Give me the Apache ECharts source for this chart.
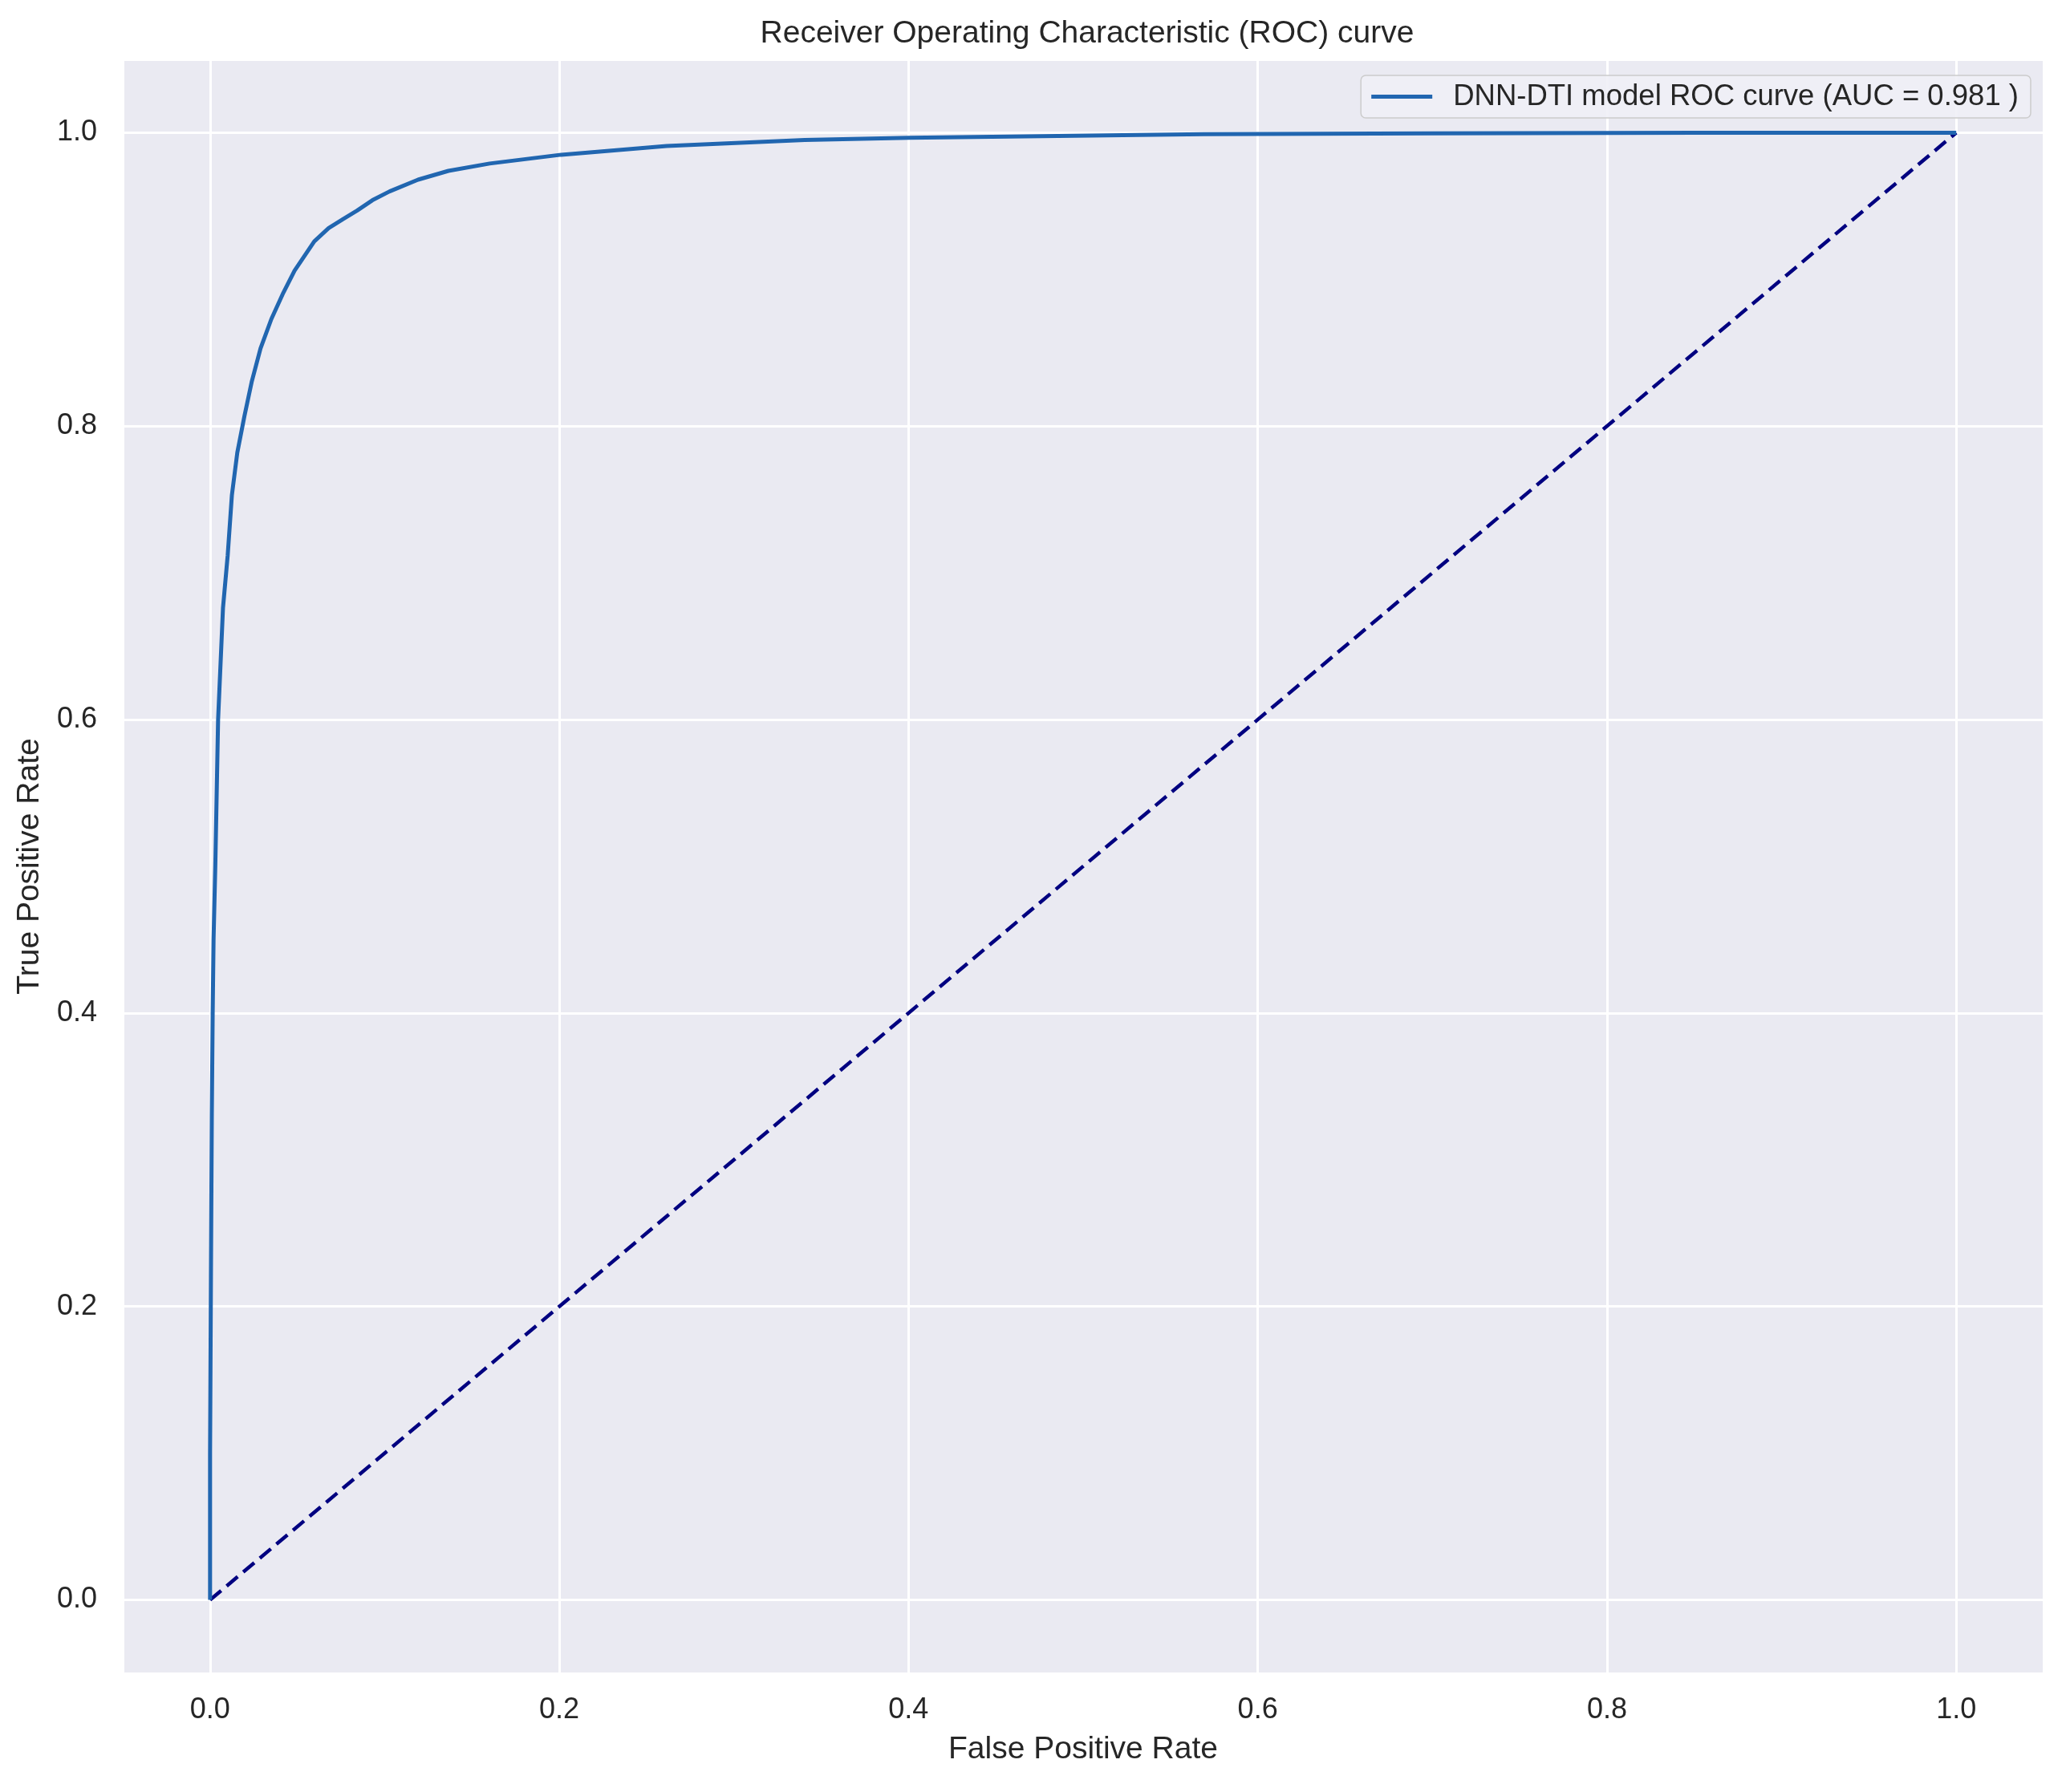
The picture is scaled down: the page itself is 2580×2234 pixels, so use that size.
<!DOCTYPE html>
<html>
<head>
<meta charset="utf-8">
<title>ROC curve</title>
<script src="https://cdn.jsdelivr.net/npm/echarts@6/dist/echarts.min.js"></script>
<style>
  html, body { margin: 0; padding: 0; background: #fff; }
  #chart { width: 2580px; height: 2234px; }
</style>
</head>
<body>
<div id="chart"></div>
<script>
// ROC curve (false positive rate / true positive rate)
const fpr = [0, 0, 0.0005, 0.001, 0.0015, 0.002, 0.003, 0.0046, 0.0074, 0.0101, 0.0125,
  0.0156, 0.0197, 0.0238, 0.0289, 0.0351, 0.042, 0.0484, 0.0597, 0.0679, 0.076, 0.0843, 0.093, 0.1028,
  0.1191, 0.1365, 0.1601, 0.2011, 0.2615, 0.3406, 0.4007, 0.4856, 0.5693, 0.7, 0.85, 1.0]
const tpr = [0, 0.1, 0.22, 0.33, 0.40, 0.45, 0.50, 0.60, 0.676, 0.712, 0.753,
  0.782, 0.807, 0.830, 0.853, 0.873, 0.891, 0.906, 0.926, 0.935, 0.941, 0.947, 0.954, 0.960,
  0.968, 0.974, 0.979, 0.985, 0.991, 0.995, 0.9966, 0.9978, 0.999, 0.9995, 1.0, 1.0]

// chance diagonal
const chanceX = [0, 1]
const chanceY = [0, 1]

const aucLabel = 'DNN-DTI model ROC curve (AUC = 0.981 )'
const titleText = 'Receiver Operating Characteristic (ROC) curve'

const font = "'Liberation Sans', Arial, sans-serif"
const textColor = '#262626'

const chart = echarts.init(document.getElementById('chart'))

const axisCommon = {
  type: 'value',
  min: -0.05,
  max: 1.05,
  splitNumber: 5,
  nameLocation: 'middle',
  nameTextStyle: { fontSize: 39, color: textColor, fontFamily: font },
  axisLine: { show: false },
  axisTick: { show: false },
  axisLabel: {
    fontSize: 36,
    color: textColor,
    fontFamily: font,
    showMinLabel: false,
    showMaxLabel: false,
    formatter: v => v.toFixed(1)
  },
  splitLine: { show: true, lineStyle: { color: '#ffffff', width: 3 } }
}

chart.setOption({
  animation: false,
  backgroundColor: '#ffffff',
  title: {
    text: titleText,
    left: 1350,
    textAlign: 'center',
    top: 18,
    textStyle: { fontSize: 39, fontWeight: 'normal', color: textColor, fontFamily: font }
  },
  grid: {
    left: 153,
    right: 33,
    top: 74,
    bottom: 148,
    show: true,
    backgroundColor: '#eaeaf2',
    borderWidth: 0
  },
  legend: {
    data: [aucLabel],
    right: 49,
    top: 94,
    orient: 'vertical',
    icon: 'rect',
    itemWidth: 76,
    itemHeight: 5,
    padding: [8, 15, 8, 13],
    backgroundColor: 'rgba(240,240,246,0.9)',
    borderColor: '#cccccc',
    borderWidth: 1.5,
    borderRadius: 6,
    textStyle: { fontSize: 36.5, color: textColor, fontFamily: font, padding: [0, 0, 0, 21] }
  },
  xAxis: Object.assign({}, axisCommon, { name: 'False Positive Rate', nameGap: 76,
    axisLabel: Object.assign({}, axisCommon.axisLabel, { margin: 28 }) }),
  yAxis: Object.assign({}, axisCommon, { name: 'True Positive Rate', nameGap: 96,
    axisLabel: Object.assign({}, axisCommon.axisLabel, { margin: 32 }) }),
  series: [
    {
      name: aucLabel,
      type: 'line',
      data: fpr.map((x, i) => [x, tpr[i]]),
      showSymbol: false,
      symbol: 'none',
      color: '#2166b0',
      lineStyle: { color: '#2166b0', width: 5 },
      z: 3
    },
    {
      name: 'chance',
      type: 'line',
      data: chanceX.map((x, i) => [x, chanceY[i]]),
      showSymbol: false,
      symbol: 'none',
      color: '#000080',
      lineStyle: { color: '#000080', width: 4.5, type: [18, 9] },
      z: 2
    }
  ]
})
</script>
</body>
</html>
